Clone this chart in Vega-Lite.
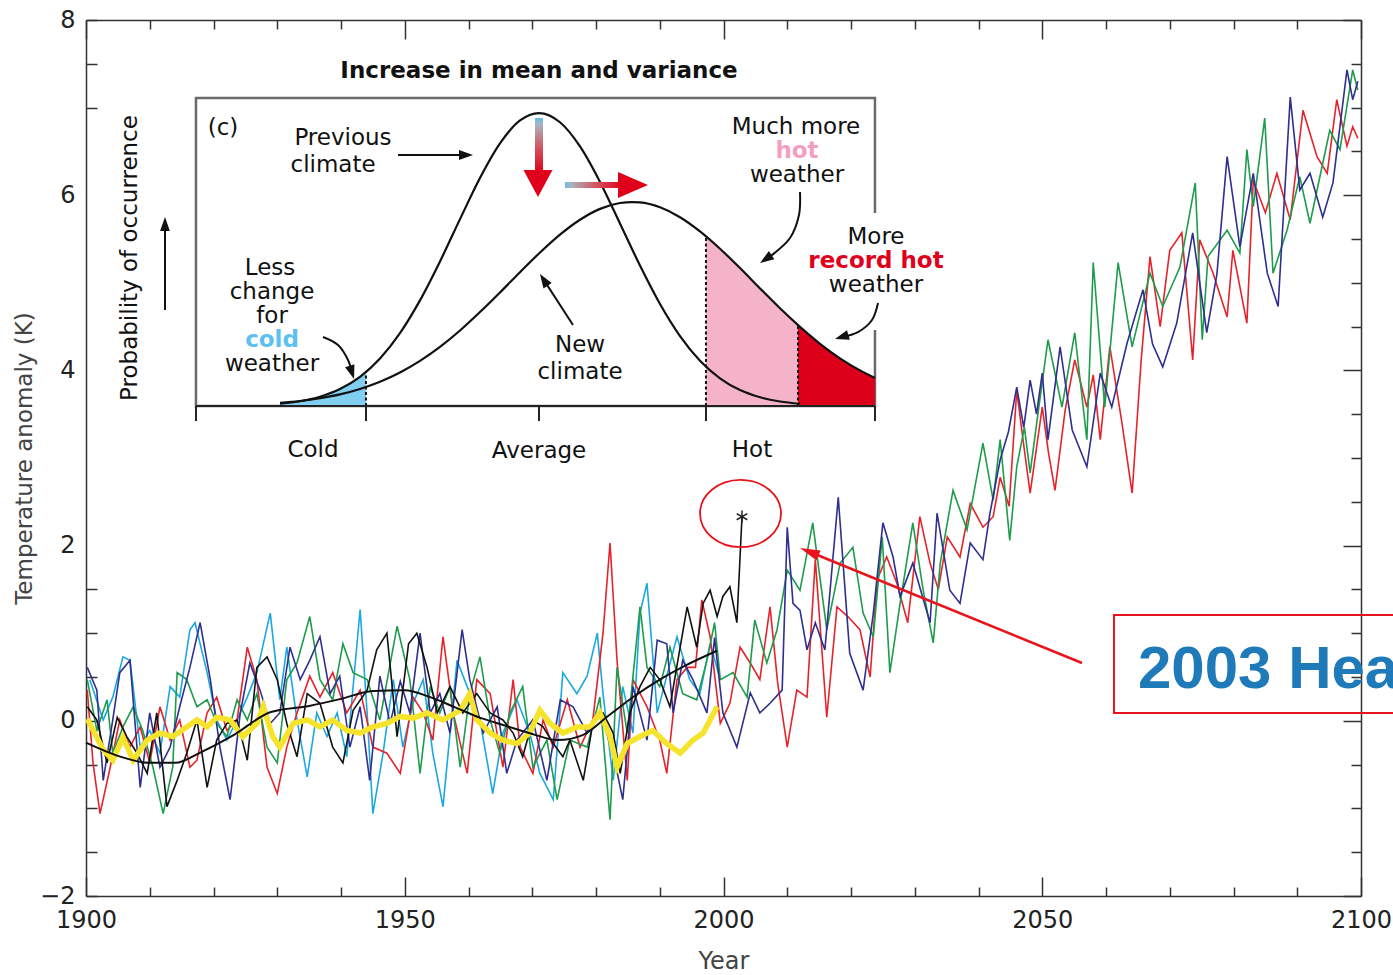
{
"$schema":"https://vega.github.io/schema/vega-lite/v6.json",
"width":1275,"height":876,
"autosize":{"type":"none"},
"padding":{"left":86,"top":20,"right":32,"bottom":79},
"background":"white",
"config":{"view":{"stroke":null},"axis":{"grid":false,"labelFont":"DejaVu Sans","titleFont":"DejaVu Sans","domainColor":"#333","domainWidth":1.5,"tickColor":"#333","tickWidth":1.5,"titleFontWeight":"normal"}},
"datasets":{
"series":[
{"s":"c","x":1900.6,"v":0.47},{"s":"c","x":1902.7,"v":0.01},{"s":"c","x":1904.2,"v":0.27},{"s":"c","x":1905.8,"v":0.73},{"s":"c","x":1906.9,"v":0.69},{"s":"c","x":1908.5,"v":-0.30},{"s":"c","x":1910.0,"v":-0.11},{"s":"c","x":1911.6,"v":-0.37},{"s":"c","x":1913.2,"v":0.39},{"s":"c","x":1914.7,"v":0.27},{"s":"c","x":1916.3,"v":1.04},{"s":"c","x":1917.1,"v":1.12},{"s":"c","x":1919.0,"v":0.55},{"s":"c","x":1920.5,"v":0.01},{"s":"c","x":1922.1,"v":-0.22},{"s":"c","x":1923.7,"v":0.01},{"s":"c","x":1925.3,"v":0.27},{"s":"c","x":1926.8,"v":0.55},{"s":"c","x":1928.9,"v":1.23},{"s":"c","x":1930.4,"v":0.24},{"s":"c","x":1931.5,"v":0.84},{"s":"c","x":1933.1,"v":0.01},{"s":"c","x":1934.7,"v":-0.64},{"s":"c","x":1936.2,"v":0.09},{"s":"c","x":1937.8,"v":-0.18},{"s":"c","x":1939.4,"v":0.09},{"s":"c","x":1940.9,"v":-0.41},{"s":"c","x":1943.0,"v":1.27},{"s":"c","x":1944.1,"v":0.09},{"s":"c","x":1945.0,"v":-1.06},{"s":"c","x":1946.6,"v":-0.37},{"s":"c","x":1948.2,"v":0.47},{"s":"c","x":1949.7,"v":-0.30},{"s":"c","x":1951.3,"v":0.20},{"s":"c","x":1952.9,"v":0.47},{"s":"c","x":1954.4,"v":-0.37},{"s":"c","x":1956.0,"v":-0.98},{"s":"c","x":1958.2,"v":0.69},{"s":"c","x":1959.8,"v":0.39},{"s":"c","x":1961.8,"v":0.01},{"s":"c","x":1963.8,"v":-0.83},{"s":"c","x":1965.4,"v":-0.14},{"s":"c","x":1967.6,"v":0.24},{"s":"c","x":1969.6,"v":-0.14},{"s":"c","x":1971.2,"v":-0.60},{"s":"c","x":1973.3,"v":-0.90},{"s":"c","x":1974.8,"v":0.55},{"s":"c","x":1977.0,"v":0.31},{"s":"c","x":1978.6,"v":0.51},{"s":"c","x":1980.2,"v":1.00},{"s":"c","x":1981.1,"v":0.31},{"s":"c","x":1982.7,"v":-0.68},{"s":"c","x":1984.2,"v":0.39},{"s":"c","x":1985.8,"v":-0.14},{"s":"c","x":1986.9,"v":1.23},{"s":"c","x":1988.0,"v":1.57},{"s":"c","x":1989.6,"v":0.09},{"s":"c","x":1991.1,"v":0.51},{"s":"c","x":1992.7,"v":0.96},{"s":"c","x":1994.7,"v":0.47},{"s":"c","x":1996.3,"v":0.31},{"s":"c","x":1997.9,"v":0.88},{"s":"c","x":1999.5,"v":0.47},
{"s":"r","x":1900.2,"v":0.35},{"s":"r","x":1901.1,"v":-0.48},{"s":"r","x":1902.2,"v":-1.06},{"s":"r","x":1903.8,"v":-0.53},{"s":"r","x":1905.3,"v":0.01},{"s":"r","x":1906.9,"v":-0.30},{"s":"r","x":1908.5,"v":-0.07},{"s":"r","x":1910.0,"v":-0.48},{"s":"r","x":1911.6,"v":0.16},{"s":"r","x":1913.2,"v":-0.22},{"s":"r","x":1914.7,"v":0.01},{"s":"r","x":1916.3,"v":-0.53},{"s":"r","x":1917.4,"v":-0.45},{"s":"r","x":1919.0,"v":0.09},{"s":"r","x":1920.5,"v":0.27},{"s":"r","x":1922.1,"v":-0.11},{"s":"r","x":1923.7,"v":0.01},{"s":"r","x":1925.3,"v":0.84},{"s":"r","x":1926.8,"v":0.47},{"s":"r","x":1928.4,"v":-0.53},{"s":"r","x":1930.0,"v":-0.83},{"s":"r","x":1931.5,"v":-0.30},{"s":"r","x":1933.1,"v":0.09},{"s":"r","x":1935.1,"v":0.51},{"s":"r","x":1936.7,"v":0.27},{"s":"r","x":1938.7,"v":0.55},{"s":"r","x":1940.9,"v":0.09},{"s":"r","x":1943.0,"v":0.35},{"s":"r","x":1945.0,"v":-0.30},{"s":"r","x":1947.2,"v":-0.37},{"s":"r","x":1949.3,"v":-0.60},{"s":"r","x":1951.3,"v":0.27},{"s":"r","x":1952.9,"v":0.09},{"s":"r","x":1954.4,"v":-0.22},{"s":"r","x":1956.0,"v":0.96},{"s":"r","x":1957.6,"v":0.09},{"s":"r","x":1959.8,"v":-0.60},{"s":"r","x":1961.3,"v":0.47},{"s":"r","x":1963.4,"v":0.31},{"s":"r","x":1965.4,"v":-0.53},{"s":"r","x":1967.0,"v":0.47},{"s":"r","x":1968.1,"v":-0.30},{"s":"r","x":1970.1,"v":-0.60},{"s":"r","x":1971.7,"v":0.01},{"s":"r","x":1973.3,"v":-0.30},{"s":"r","x":1975.5,"v":0.24},{"s":"r","x":1977.5,"v":-0.30},{"s":"r","x":1979.5,"v":0.01},{"s":"r","x":1981.1,"v":1.00},{"s":"r","x":1982.2,"v":2.03},{"s":"r","x":1983.3,"v":0.69},{"s":"r","x":1984.9,"v":-0.68},{"s":"r","x":1985.8,"v":0.47},{"s":"r","x":1988.0,"v":0.16},{"s":"r","x":1990.0,"v":-0.22},{"s":"r","x":1991.1,"v":-0.60},{"s":"r","x":1992.7,"v":0.47},{"s":"r","x":1994.3,"v":0.61},{"s":"r","x":1995.6,"v":0.61},{"s":"r","x":1996.6,"v":1.38},{"s":"r","x":1997.9,"v":0.96},{"s":"r","x":1999.5,"v":-0.03},{"s":"r","x":2001.0,"v":0.20},{"s":"r","x":2002.6,"v":0.84},{"s":"r","x":2004.2,"v":0.66},{"s":"r","x":2005.7,"v":0.47},{"s":"r","x":2007.3,"v":1.30},{"s":"r","x":2008.5,"v":0.43},{"s":"r","x":2010.0,"v":-0.30},{"s":"r","x":2011.5,"v":0.35},{"s":"r","x":2013.1,"v":0.27},{"s":"r","x":2014.4,"v":1.84},{"s":"r","x":2016.2,"v":0.04},{"s":"r","x":2017.8,"v":1.30},{"s":"r","x":2019.5,"v":1.19},{"s":"r","x":2021.4,"v":1.04},{"s":"r","x":2023.0,"v":0.50},{"s":"r","x":2024.1,"v":1.61},{"s":"r","x":2025.6,"v":1.87},{"s":"r","x":2027.2,"v":1.57},{"s":"r","x":2028.9,"v":1.12},{"s":"r","x":2030.8,"v":2.33},{"s":"r","x":2032.4,"v":1.80},{"s":"r","x":2033.7,"v":1.50},{"s":"r","x":2035.1,"v":2.10},{"s":"r","x":2037.1,"v":1.87},{"s":"r","x":2038.7,"v":2.48},{"s":"r","x":2040.7,"v":2.21},{"s":"r","x":2042.3,"v":2.33},{"s":"r","x":2043.4,"v":2.78},{"s":"r","x":2044.8,"v":2.45},{"s":"r","x":2046.0,"v":3.77},{"s":"r","x":2047.0,"v":3.20},{"s":"r","x":2048.1,"v":2.60},{"s":"r","x":2050.0,"v":3.58},{"s":"r","x":2051.0,"v":3.05},{"s":"r","x":2052.0,"v":2.63},{"s":"r","x":2053.6,"v":3.55},{"s":"r","x":2055.1,"v":4.12},{"s":"r","x":2057.0,"v":3.58},{"s":"r","x":2058.0,"v":3.95},{"s":"r","x":2059.1,"v":3.21},{"s":"r","x":2060.6,"v":4.27},{"s":"r","x":2062.5,"v":3.40},{"s":"r","x":2064.1,"v":2.60},{"s":"r","x":2065.5,"v":4.10},{"s":"r","x":2066.9,"v":5.30},{"s":"r","x":2068.5,"v":4.50},{"s":"r","x":2070.0,"v":5.37},{"s":"r","x":2071.9,"v":5.57},{"s":"r","x":2073.6,"v":4.12},{"s":"r","x":2074.7,"v":5.49},{"s":"r","x":2076.8,"v":5.11},{"s":"r","x":2079.0,"v":4.61},{"s":"r","x":2079.9,"v":5.37},{"s":"r","x":2082.1,"v":4.54},{"s":"r","x":2083.1,"v":6.17},{"s":"r","x":2085.0,"v":5.80},{"s":"r","x":2086.8,"v":6.25},{"s":"r","x":2088.9,"v":5.72},{"s":"r","x":2090.9,"v":6.97},{"s":"r","x":2093.1,"v":6.44},{"s":"r","x":2094.7,"v":6.25},{"s":"r","x":2096.2,"v":7.09},{"s":"r","x":2097.8,"v":6.56},{"s":"r","x":2098.7,"v":6.78},{"s":"r","x":2099.5,"v":6.65},
{"s":"g","x":1900.2,"v":0.47},{"s":"g","x":1901.7,"v":-0.11},{"s":"g","x":1903.3,"v":0.24},{"s":"g","x":1904.2,"v":-0.37},{"s":"g","x":1905.8,"v":-0.07},{"s":"g","x":1907.4,"v":0.16},{"s":"g","x":1908.9,"v":-0.11},{"s":"g","x":1910.5,"v":-0.53},{"s":"g","x":1912.1,"v":-1.06},{"s":"g","x":1913.6,"v":-0.53},{"s":"g","x":1914.3,"v":0.55},{"s":"g","x":1915.8,"v":0.47},{"s":"g","x":1917.4,"v":0.16},{"s":"g","x":1919.0,"v":0.24},{"s":"g","x":1920.5,"v":-0.03},{"s":"g","x":1922.1,"v":-0.18},{"s":"g","x":1923.7,"v":0.24},{"s":"g","x":1925.3,"v":0.01},{"s":"g","x":1926.8,"v":0.31},{"s":"g","x":1928.4,"v":-0.30},{"s":"g","x":1930.0,"v":-0.48},{"s":"g","x":1931.5,"v":0.47},{"s":"g","x":1933.1,"v":0.66},{"s":"g","x":1935.1,"v":1.19},{"s":"g","x":1936.7,"v":0.47},{"s":"g","x":1938.7,"v":0.24},{"s":"g","x":1940.3,"v":0.88},{"s":"g","x":1941.9,"v":0.55},{"s":"g","x":1944.1,"v":0.47},{"s":"g","x":1946.1,"v":0.01},{"s":"g","x":1948.8,"v":1.08},{"s":"g","x":1950.8,"v":0.47},{"s":"g","x":1952.4,"v":-0.60},{"s":"g","x":1954.0,"v":0.39},{"s":"g","x":1955.5,"v":0.09},{"s":"g","x":1957.1,"v":0.39},{"s":"g","x":1958.7,"v":-0.53},{"s":"g","x":1960.2,"v":0.31},{"s":"g","x":1961.8,"v":0.73},{"s":"g","x":1963.4,"v":0.01},{"s":"g","x":1964.9,"v":-0.37},{"s":"g","x":1966.5,"v":0.09},{"s":"g","x":1968.5,"v":0.39},{"s":"g","x":1970.1,"v":-0.53},{"s":"g","x":1972.3,"v":-0.22},{"s":"g","x":1973.9,"v":-0.90},{"s":"g","x":1975.9,"v":-0.22},{"s":"g","x":1978.6,"v":-0.30},{"s":"g","x":1980.6,"v":0.27},{"s":"g","x":1982.2,"v":-1.13},{"s":"g","x":1983.3,"v":0.61},{"s":"g","x":1984.9,"v":-0.14},{"s":"g","x":1986.9,"v":1.30},{"s":"g","x":1988.0,"v":0.61},{"s":"g","x":1990.0,"v":0.39},{"s":"g","x":1991.6,"v":0.84},{"s":"g","x":1993.6,"v":0.31},{"s":"g","x":1995.8,"v":0.24},{"s":"g","x":1997.4,"v":0.69},{"s":"g","x":1998.6,"v":1.12},{"s":"g","x":1999.5,"v":0.47},{"s":"g","x":2001.5,"v":0.55},{"s":"g","x":2003.7,"v":0.27},{"s":"g","x":2004.9,"v":1.15},{"s":"g","x":2006.8,"v":0.66},{"s":"g","x":2008.4,"v":1.04},{"s":"g","x":2010.0,"v":1.72},{"s":"g","x":2012.0,"v":1.49},{"s":"g","x":2014.0,"v":2.26},{"s":"g","x":2016.2,"v":1.04},{"s":"g","x":2018.3,"v":1.80},{"s":"g","x":2020.3,"v":1.98},{"s":"g","x":2021.9,"v":1.23},{"s":"g","x":2023.5,"v":0.96},{"s":"g","x":2024.9,"v":2.10},{"s":"g","x":2026.1,"v":0.55},{"s":"g","x":2027.7,"v":1.34},{"s":"g","x":2029.7,"v":2.26},{"s":"g","x":2031.3,"v":1.50},{"s":"g","x":2032.9,"v":0.89},{"s":"g","x":2034.0,"v":1.80},{"s":"g","x":2036.0,"v":2.63},{"s":"g","x":2038.2,"v":2.18},{"s":"g","x":2040.7,"v":3.17},{"s":"g","x":2042.3,"v":2.52},{"s":"g","x":2043.4,"v":3.21},{"s":"g","x":2044.9,"v":2.06},{"s":"g","x":2046.0,"v":2.90},{"s":"g","x":2047.2,"v":3.35},{"s":"g","x":2048.1,"v":2.83},{"s":"g","x":2049.5,"v":3.60},{"s":"g","x":2050.9,"v":4.35},{"s":"g","x":2053.1,"v":3.58},{"s":"g","x":2055.1,"v":4.43},{"s":"g","x":2057.0,"v":3.21},{"s":"g","x":2058.0,"v":5.23},{"s":"g","x":2059.8,"v":3.58},{"s":"g","x":2061.9,"v":5.23},{"s":"g","x":2064.1,"v":4.27},{"s":"g","x":2066.9,"v":5.11},{"s":"g","x":2068.9,"v":4.73},{"s":"g","x":2071.6,"v":5.18},{"s":"g","x":2074.0,"v":6.14},{"s":"g","x":2075.1,"v":4.35},{"s":"g","x":2076.0,"v":5.30},{"s":"g","x":2079.0,"v":5.60},{"s":"g","x":2081.0,"v":5.34},{"s":"g","x":2082.1,"v":6.52},{"s":"g","x":2083.1,"v":5.87},{"s":"g","x":2084.9,"v":6.88},{"s":"g","x":2086.2,"v":5.11},{"s":"g","x":2088.4,"v":5.60},{"s":"g","x":2090.4,"v":6.21},{"s":"g","x":2092.0,"v":5.68},{"s":"g","x":2095.1,"v":6.74},{"s":"g","x":2096.7,"v":6.52},{"s":"g","x":2098.7,"v":7.43},{"s":"g","x":2099.5,"v":7.20},
{"s":"b","x":1900.2,"v":0.61},{"s":"b","x":1901.7,"v":0.35},{"s":"b","x":1902.7,"v":-0.68},{"s":"b","x":1904.2,"v":0.01},{"s":"b","x":1905.3,"v":0.55},{"s":"b","x":1906.9,"v":0.69},{"s":"b","x":1908.5,"v":-0.76},{"s":"b","x":1910.0,"v":0.09},{"s":"b","x":1911.6,"v":-0.53},{"s":"b","x":1913.2,"v":-0.30},{"s":"b","x":1914.7,"v":0.16},{"s":"b","x":1916.3,"v":0.61},{"s":"b","x":1917.9,"v":1.12},{"s":"b","x":1919.5,"v":0.47},{"s":"b","x":1921.0,"v":-0.30},{"s":"b","x":1922.6,"v":-0.90},{"s":"b","x":1924.2,"v":0.09},{"s":"b","x":1925.7,"v":0.66},{"s":"b","x":1927.3,"v":0.35},{"s":"b","x":1928.9,"v":-0.03},{"s":"b","x":1930.4,"v":0.09},{"s":"b","x":1932.0,"v":0.84},{"s":"b","x":1933.6,"v":0.47},{"s":"b","x":1935.1,"v":0.69},{"s":"b","x":1936.7,"v":0.96},{"s":"b","x":1938.3,"v":0.31},{"s":"b","x":1939.8,"v":0.51},{"s":"b","x":1941.4,"v":-0.30},{"s":"b","x":1943.0,"v":0.16},{"s":"b","x":1944.5,"v":-0.68},{"s":"b","x":1946.1,"v":0.51},{"s":"b","x":1947.7,"v":-0.03},{"s":"b","x":1949.3,"v":0.45},{"s":"b","x":1950.8,"v":0.09},{"s":"b","x":1952.4,"v":1.00},{"s":"b","x":1954.0,"v":0.09},{"s":"b","x":1955.5,"v":0.31},{"s":"b","x":1957.1,"v":-0.14},{"s":"b","x":1959.0,"v":1.04},{"s":"b","x":1960.2,"v":0.47},{"s":"b","x":1962.3,"v":-0.14},{"s":"b","x":1964.5,"v":0.16},{"s":"b","x":1966.0,"v":-0.60},{"s":"b","x":1967.6,"v":-0.22},{"s":"b","x":1970.1,"v":0.01},{"s":"b","x":1972.3,"v":-0.68},{"s":"b","x":1974.4,"v":0.24},{"s":"b","x":1976.4,"v":0.16},{"s":"b","x":1978.6,"v":-0.14},{"s":"b","x":1980.6,"v":0.09},{"s":"b","x":1982.7,"v":-0.37},{"s":"b","x":1984.2,"v":-0.90},{"s":"b","x":1985.8,"v":0.39},{"s":"b","x":1988.0,"v":-0.22},{"s":"b","x":1989.6,"v":0.92},{"s":"b","x":1991.1,"v":0.88},{"s":"b","x":1992.1,"v":0.09},{"s":"b","x":1993.6,"v":0.69},{"s":"b","x":1995.2,"v":0.47},{"s":"b","x":1997.4,"v":0.09},{"s":"b","x":1998.6,"v":0.95},{"s":"b","x":1999.9,"v":0.09},{"s":"b","x":2002.1,"v":-0.30},{"s":"b","x":2004.2,"v":0.32},{"s":"b","x":2005.7,"v":0.09},{"s":"b","x":2007.3,"v":0.20},{"s":"b","x":2009.2,"v":0.35},{"s":"b","x":2010.0,"v":2.21},{"s":"b","x":2010.9,"v":1.34},{"s":"b","x":2012.0,"v":1.26},{"s":"b","x":2013.1,"v":0.81},{"s":"b","x":2014.4,"v":1.12},{"s":"b","x":2015.9,"v":0.81},{"s":"b","x":2018.0,"v":2.55},{"s":"b","x":2019.8,"v":0.77},{"s":"b","x":2021.9,"v":0.35},{"s":"b","x":2023.5,"v":1.23},{"s":"b","x":2025.0,"v":2.26},{"s":"b","x":2026.6,"v":1.87},{"s":"b","x":2027.7,"v":1.42},{"s":"b","x":2029.7,"v":1.80},{"s":"b","x":2032.4,"v":1.12},{"s":"b","x":2033.5,"v":2.37},{"s":"b","x":2035.5,"v":1.49},{"s":"b","x":2037.1,"v":1.34},{"s":"b","x":2038.7,"v":2.03},{"s":"b","x":2040.7,"v":1.84},{"s":"b","x":2041.8,"v":2.37},{"s":"b","x":2043.4,"v":2.98},{"s":"b","x":2044.7,"v":3.30},{"s":"b","x":2046.0,"v":3.81},{"s":"b","x":2047.1,"v":3.35},{"s":"b","x":2048.1,"v":3.89},{"s":"b","x":2049.1,"v":3.50},{"s":"b","x":2050.0,"v":3.97},{"s":"b","x":2050.9,"v":3.21},{"s":"b","x":2052.8,"v":4.27},{"s":"b","x":2054.7,"v":3.32},{"s":"b","x":2057.0,"v":2.90},{"s":"b","x":2059.1,"v":3.97},{"s":"b","x":2060.9,"v":3.58},{"s":"b","x":2063.3,"v":4.31},{"s":"b","x":2065.8,"v":4.92},{"s":"b","x":2067.3,"v":4.30},{"s":"b","x":2068.9,"v":4.04},{"s":"b","x":2071.1,"v":4.54},{"s":"b","x":2073.6,"v":5.57},{"s":"b","x":2075.8,"v":4.43},{"s":"b","x":2077.4,"v":5.10},{"s":"b","x":2079.0,"v":6.44},{"s":"b","x":2081.0,"v":5.41},{"s":"b","x":2083.1,"v":6.25},{"s":"b","x":2085.3,"v":5.11},{"s":"b","x":2087.0,"v":4.73},{"s":"b","x":2088.9,"v":7.12},{"s":"b","x":2090.4,"v":6.06},{"s":"b","x":2092.0,"v":6.25},{"s":"b","x":2094.0,"v":5.75},{"s":"b","x":2095.6,"v":6.14},{"s":"b","x":2097.8,"v":7.43},{"s":"b","x":2098.7,"v":7.09},{"s":"b","x":2099.5,"v":7.30},
{"s":"k","x":1900.2,"v":0.16},{"s":"k","x":1901.7,"v":0.01},{"s":"k","x":1903.3,"v":-0.48},{"s":"k","x":1904.9,"v":0.04},{"s":"k","x":1906.4,"v":-0.18},{"s":"k","x":1908.0,"v":-0.37},{"s":"k","x":1909.6,"v":-0.60},{"s":"k","x":1911.1,"v":0.09},{"s":"k","x":1912.7,"v":-0.98},{"s":"k","x":1914.3,"v":-0.68},{"s":"k","x":1915.8,"v":-0.37},{"s":"k","x":1917.4,"v":0.01},{"s":"k","x":1919.0,"v":-0.76},{"s":"k","x":1920.5,"v":-0.22},{"s":"k","x":1922.1,"v":-0.03},{"s":"k","x":1923.7,"v":0.01},{"s":"k","x":1925.3,"v":-0.45},{"s":"k","x":1926.8,"v":0.61},{"s":"k","x":1928.4,"v":0.73},{"s":"k","x":1930.0,"v":0.47},{"s":"k","x":1931.5,"v":-0.03},{"s":"k","x":1933.1,"v":-0.41},{"s":"k","x":1934.7,"v":0.31},{"s":"k","x":1936.7,"v":0.20},{"s":"k","x":1938.7,"v":-0.30},{"s":"k","x":1940.3,"v":-0.48},{"s":"k","x":1941.9,"v":0.12},{"s":"k","x":1944.1,"v":0.35},{"s":"k","x":1945.6,"v":0.81},{"s":"k","x":1947.2,"v":1.00},{"s":"k","x":1948.8,"v":-0.18},{"s":"k","x":1950.6,"v":0.88},{"s":"k","x":1951.9,"v":1.00},{"s":"k","x":1953.5,"v":0.61},{"s":"k","x":1955.1,"v":0.09},{"s":"k","x":1957.1,"v":0.39},{"s":"k","x":1959.1,"v":0.09},{"s":"k","x":1961.3,"v":0.31},{"s":"k","x":1963.4,"v":0.09},{"s":"k","x":1965.4,"v":0.01},{"s":"k","x":1967.0,"v":-0.14},{"s":"k","x":1968.5,"v":-0.41},{"s":"k","x":1970.1,"v":0.01},{"s":"k","x":1971.7,"v":-0.07},{"s":"k","x":1973.3,"v":-0.26},{"s":"k","x":1974.8,"v":-0.41},{"s":"k","x":1975.9,"v":-0.22},{"s":"k","x":1978.0,"v":-0.68},{"s":"k","x":1979.5,"v":-0.03},{"s":"k","x":1981.1,"v":0.09},{"s":"k","x":1982.7,"v":-0.14},{"s":"k","x":1983.8,"v":-0.60},{"s":"k","x":1985.3,"v":0.09},{"s":"k","x":1986.9,"v":0.39},{"s":"k","x":1988.5,"v":0.61},{"s":"k","x":1990.0,"v":0.47},{"s":"k","x":1991.6,"v":0.16},{"s":"k","x":1993.2,"v":0.84},{"s":"k","x":1994.3,"v":1.30},{"s":"k","x":1995.8,"v":0.84},{"s":"k","x":1996.8,"v":1.34},{"s":"k","x":1997.9,"v":1.49},{"s":"k","x":1999.0,"v":1.19},{"s":"k","x":1999.9,"v":1.42},{"s":"k","x":2001.0,"v":1.53},{"s":"k","x":2002.1,"v":1.12},{"s":"k","x":2002.9,"v":2.33}
],
"yellow":[
{"x":1900.2,"v":0.02},{"x":1902.7,"v":-0.33},{"x":1904.2,"v":-0.45},{"x":1905.8,"v":-0.19},{"x":1907.4,"v":-0.45},{"x":1909.6,"v":-0.22},{"x":1911.6,"v":-0.14},{"x":1913.6,"v":-0.18},{"x":1915.8,"v":-0.07},{"x":1917.4,"v":0.01},{"x":1919.0,"v":-0.07},{"x":1920.5,"v":0.04},{"x":1922.6,"v":0.01},{"x":1924.6,"v":-0.18},{"x":1926.8,"v":-0.03},{"x":1927.8,"v":0.16},{"x":1929.3,"v":-0.18},{"x":1930.4,"v":-0.30},{"x":1932.5,"v":-0.03},{"x":1934.7,"v":0.01},{"x":1936.7,"v":-0.07},{"x":1938.7,"v":0.01},{"x":1940.9,"v":-0.11},{"x":1943.0,"v":-0.14},{"x":1945.0,"v":-0.07},{"x":1947.2,"v":-0.03},{"x":1949.3,"v":0.05},{"x":1951.3,"v":0.03},{"x":1953.5,"v":0.09},{"x":1956.0,"v":0.01},{"x":1958.7,"v":0.12},{"x":1960.2,"v":0.31},{"x":1961.3,"v":0.01},{"x":1963.4,"v":-0.14},{"x":1965.4,"v":-0.22},{"x":1967.6,"v":-0.26},{"x":1969.6,"v":-0.14},{"x":1971.2,"v":0.12},{"x":1972.8,"v":-0.03},{"x":1974.8,"v":-0.14},{"x":1977.0,"v":-0.07},{"x":1979.1,"v":-0.07},{"x":1980.6,"v":0.09},{"x":1982.2,"v":-0.18},{"x":1983.3,"v":-0.53},{"x":1984.9,"v":-0.26},{"x":1986.9,"v":-0.18},{"x":1988.9,"v":-0.11},{"x":1991.1,"v":-0.26},{"x":1993.2,"v":-0.37},{"x":1995.2,"v":-0.22},{"x":1996.8,"v":-0.14},{"x":1999.0,"v":0.16}
],
"smooth":[
{"x":1900,"v":-0.25},{"x":1905,"v":-0.40},{"x":1910,"v":-0.48},{"x":1914,"v":-0.48},{"x":1918,"v":-0.36},{"x":1923,"v":-0.17},{"x":1929,"v":0.10},{"x":1935,"v":0.17},{"x":1940,"v":0.25},{"x":1945,"v":0.34},{"x":1950,"v":0.35},{"x":1954,"v":0.27},{"x":1958,"v":0.15},{"x":1962,"v":0.03},{"x":1966,"v":-0.06},{"x":1970,"v":-0.15},{"x":1974,"v":-0.22},{"x":1978,"v":-0.16},{"x":1982,"v":0.06},{"x":1986,"v":0.28},{"x":1990,"v":0.47},{"x":1994,"v":0.63},{"x":1999,"v":0.80}
],
"curves":[
{"c":"prev","x":1930.43,"y":3.620},{"c":"prev","x":1933.57,"y":3.648},{"c":"prev","x":1936.71,"y":3.700},{"c":"prev","x":1939.84,"y":3.787},{"c":"prev","x":1942.98,"y":3.926},{"c":"prev","x":1946.12,"y":4.135},{"c":"prev","x":1949.25,"y":4.425},{"c":"prev","x":1952.39,"y":4.799},{"c":"prev","x":1955.53,"y":5.244},{"c":"prev","x":1958.67,"y":5.727},{"c":"prev","x":1961.80,"y":6.196},{"c":"prev","x":1964.94,"y":6.591},{"c":"prev","x":1968.08,"y":6.853},{"c":"prev","x":1971.06,"y":6.938},{"c":"prev","x":1974.35,"y":6.833},{"c":"prev","x":1977.49,"y":6.557},{"c":"prev","x":1980.63,"y":6.152},{"c":"prev","x":1983.76,"y":5.678},{"c":"prev","x":1986.90,"y":5.197},{"c":"prev","x":1990.04,"y":4.758},{"c":"prev","x":1993.18,"y":4.392},{"c":"prev","x":1996.31,"y":4.111},{"c":"prev","x":1999.45,"y":3.910},{"c":"prev","x":2002.59,"y":3.775},{"c":"prev","x":2005.73,"y":3.693},{"c":"prev","x":2008.86,"y":3.645},{"c":"prev","x":2012.00,"y":3.619},
{"c":"new","x":1930.43,"y":3.630},{"c":"new","x":1933.57,"y":3.651},{"c":"new","x":1936.71,"y":3.683},{"c":"new","x":1939.84,"y":3.726},{"c":"new","x":1942.98,"y":3.788},{"c":"new","x":1946.12,"y":3.870},{"c":"new","x":1949.25,"y":3.976},{"c":"new","x":1952.39,"y":4.108},{"c":"new","x":1955.53,"y":4.268},{"c":"new","x":1958.67,"y":4.455},{"c":"new","x":1961.80,"y":4.666},{"c":"new","x":1964.94,"y":4.890},{"c":"new","x":1968.08,"y":5.121},{"c":"new","x":1971.22,"y":5.346},{"c":"new","x":1974.35,"y":5.550},{"c":"new","x":1977.49,"y":5.720},{"c":"new","x":1980.63,"y":5.844},{"c":"new","x":1983.76,"y":5.911},{"c":"new","x":1985.65,"y":5.922},{"c":"new","x":1986.90,"y":5.918},{"c":"new","x":1990.04,"y":5.862},{"c":"new","x":1993.18,"y":5.749},{"c":"new","x":1996.31,"y":5.587},{"c":"new","x":1999.45,"y":5.389},{"c":"new","x":2002.59,"y":5.168},{"c":"new","x":2005.73,"y":4.936},{"c":"new","x":2008.86,"y":4.709},{"c":"new","x":2012.00,"y":4.497},{"c":"new","x":2015.14,"y":4.304},{"c":"new","x":2018.27,"y":4.138},{"c":"new","x":2021.41,"y":4.000},{"c":"new","x":2023.76,"y":3.914}
],
"areas":[
{"a":"cold","x":1930.43,"y":3.620},{"a":"cold","x":1933.57,"y":3.648},{"a":"cold","x":1936.71,"y":3.700},{"a":"cold","x":1939.84,"y":3.787},{"a":"cold","x":1942.98,"y":3.926},{"a":"cold","x":1943.92,"y":3.981},
{"a":"hot","x":1997.25,"y":5.531},{"a":"hot","x":1999.45,"y":5.389},{"a":"hot","x":2002.59,"y":5.168},{"a":"hot","x":2005.73,"y":4.936},{"a":"hot","x":2008.86,"y":4.709},{"a":"hot","x":2011.69,"y":4.516},
{"a":"rec","x":2011.69,"y":4.516},{"a":"rec","x":2012.00,"y":4.497},{"a":"rec","x":2015.14,"y":4.304},{"a":"rec","x":2018.27,"y":4.138},{"a":"rec","x":2021.41,"y":4.000},{"a":"rec","x":2023.76,"y":3.914}
],
"dash":[{"x":1943.92,"y":3.594,"y2":3.981},{"x":1997.25,"y":3.594,"y2":5.531},{"x":2011.69,"y":3.594,"y2":4.516}],
"iticks":[{"x":1917.25,"y":3.594,"y2":3.422},{"x":1943.92,"y":3.594,"y2":3.422},{"x":1971.06,"y":3.594,"y2":3.422},{"x":1997.25,"y":3.594,"y2":3.422},{"x":2023.76,"y":3.594,"y2":3.422}],
"itext":[
{"t":"Previous","x":1940.31,"y":6.653},{"t":"climate","x":1938.75,"y":6.345},
{"t":"Much more","x":2011.37,"y":6.779},{"t":"weather","x":2011.53,"y":6.231},
{"t":"More","x":2023.92,"y":5.523},{"t":"weather","x":2023.92,"y":4.975},
{"t":"Less","x":1928.86,"y":5.169},{"t":"change","x":1929.18,"y":4.895},{"t":"for","x":1929.18,"y":4.621},{"t":"weather","x":1929.18,"y":4.073},
{"t":"New","x":1977.49,"y":4.290},{"t":"climate","x":1977.49,"y":3.982},
{"t":"Cold","x":1935.61,"y":3.091},{"t":"Average","x":1971.06,"y":3.080},{"t":"Hot","x":2004.47,"y":3.091},
{"t":"(c)","x":1921.49,"y":6.767}
],
"ctext":[
{"t":"hot","k":"p","x":2011.53,"y":6.505},{"t":"record hot","k":"r","x":2023.92,"y":5.249},{"t":"cold","k":"b","x":1929.18,"y":4.347}
],
"arrows":[
{"id":"p","i":0,"x":1948.94,"y":6.459},{"id":"p","i":1,"x":1958.98,"y":6.459},
{"id":"u","i":0,"x":1912.39,"y":4.690},{"id":"u","i":1,"x":1912.39,"y":5.626},
{"id":"n","i":0,"x":1976.39,"y":4.518},{"id":"n","i":1,"x":1971.81,"y":5.033},
{"id":"h","i":0,"x":2012.00,"y":6.037},{"id":"h","i":1,"x":2011.84,"y":5.774},{"id":"h","i":2,"x":2010.43,"y":5.511},{"id":"h","i":3,"x":2007.61,"y":5.317},{"id":"h","i":4,"x":2006.64,"y":5.271},
{"id":"r","i":0,"x":2024.24,"y":4.769},{"id":"r","i":1,"x":2023.29,"y":4.575},{"id":"r","i":2,"x":2021.10,"y":4.438},{"id":"r","i":3,"x":2018.54,"y":4.381},
{"id":"c","i":0,"x":1937.18,"y":4.381},{"id":"c","i":1,"x":1939.53,"y":4.290},{"id":"c","i":2,"x":1941.10,"y":4.119},{"id":"c","i":3,"x":1941.71,"y":3.978}
]
},
"resolve":{"axis":{"x":"independent","y":"independent"},"scale":{"color":"independent"}},
"layer":[
{"data":{"name":"series"},"mark":{"type":"line","strokeWidth":1.6},
"encoding":{
"x":{"field":"x","type":"quantitative","scale":{"domain":[1900,2100],"nice":false,"zero":false},
"axis":{"orient":"bottom","values":[1900,1950,2000,2050,2100],"format":"d","ticks":false,"domain":false,"labelFontSize":24,"labelColor":"#222","labelPadding":12,"labelFlush":false,"labelOverlap":false,"title":"Year","titleFontSize":24,"titleColor":"#444","titlePadding":17}},
"y":{"field":"v","type":"quantitative","scale":{"domain":[-2,8],"nice":false,"zero":false},
"axis":{"orient":"left","values":[-2,0,2,4,6,8],"ticks":false,"domain":false,"labelFontSize":24,"labelColor":"#222","labelPadding":11,"labelOverlap":false,"title":"Temperature anomaly (K)","titleFontSize":23,"titleColor":"#444","titlePadding":3}},
"color":{"field":"s","type":"nominal","scale":{"domain":["c","r","g","b","k"],"range":["#1ba8e0","#e6232b","#1e9c4c","#2e2f8f","#111111"]},"legend":null}
}},
{"data":{"name":"yellow"},"mark":{"type":"line","strokeWidth":5.5,"color":"#f6e32b"},
"encoding":{
"x":{"field":"x","type":"quantitative","axis":{"orient":"bottom","values":[1900,1910,1920,1930,1940,1950,1960,1970,1980,1990,2000,2010,2020,2030,2040,2050,2060,2070,2080,2090,2100],"labels":false,"title":null,"tickSize":{"condition":{"test":"datum.value % 50 == 0","value":-19},"value":-9}}},
"y":{"field":"v","type":"quantitative","axis":{"orient":"left","values":[-2,-1.5,-1,-0.5,0,0.5,1,1.5,2,2.5,3,3.5,4,4.5,5,5.5,6,6.5,7,7.5,8],"labels":false,"title":null,"tickSize":-11,"tickOpacity":{"condition":{"test":"datum.value >= 2 && datum.value <= 6.6","value":0},"value":1}}}
}},
{"data":{"name":"smooth"},"mark":{"type":"line","strokeWidth":2,"color":"#111","interpolate":"monotone"},
"encoding":{
"x":{"field":"x","type":"quantitative","axis":{"orient":"top","values":[1900,1910,1920,1930,1940,1950,1960,1970,1980,1990,2000,2010,2020,2030,2040,2050,2060,2070,2080,2090,2100],"labels":false,"title":null,"tickSize":{"condition":{"test":"datum.value % 50 == 0","value":-19},"value":-9}}},
"y":{"field":"v","type":"quantitative","axis":{"orient":"right","values":[-2,-1.5,-1,-0.5,0,0.5,1,1.5,2,2.5,3,3.5,4,4.5,5,5.5,6,6.5,7,7.5,8],"labels":false,"title":null,"tickSize":{"condition":{"test":"datum.value % 2 == 0","value":-18},"value":-10}}}
}},
{"data":{"values":[{"x":2002.67,"y":2.366}]},"mark":{"type":"point","shape":"M-1,0A1,0.83,0,1,0,1,0A1,0.83,0,1,0,-1,0Z","size":6561,"filled":false,"color":"#e8141c","strokeWidth":1.8,"opacity":1},
"encoding":{"x":{"field":"x","type":"quantitative","axis":null},"y":{"field":"y","type":"quantitative","axis":null}}},
{"data":{"values":[{"x":2002.9,"y":2.33}]},"mark":{"type":"point","shape":"M0,-1L0,1M-0.87,-0.5L0.87,0.5M-0.87,0.5L0.87,-0.5","size":150,"filled":false,"color":"#222","strokeWidth":1.5,"opacity":1},
"encoding":{"x":{"field":"x","type":"quantitative","axis":null},"y":{"field":"y","type":"quantitative","axis":null}}},
{"data":{"values":[{"x":1917.25,"x2":2023.76,"y":3.594,"y2":7.110}]},"mark":{"type":"rect","fill":"white","stroke":"#6a6a6a","strokeWidth":2.5},
"encoding":{"x":{"field":"x","type":"quantitative","axis":null},"x2":{"field":"x2"},"y":{"field":"y","type":"quantitative","axis":null},"y2":{"field":"y2"}}},
{"data":{"name":"areas"},"mark":{"type":"area","interpolate":"monotone","opacity":1},
"encoding":{"x":{"field":"x","type":"quantitative","axis":null},"y":{"field":"y","type":"quantitative","axis":null},"y2":{"datum":3.594},
"color":{"field":"a","type":"nominal","scale":{"domain":["cold","hot","rec"],"range":["#80cef0","#f5b3c9","#dc001a"]},"legend":null}}},
{"data":{"name":"curves"},"mark":{"type":"line","interpolate":"monotone","color":"#111","strokeWidth":2.2},
"encoding":{"x":{"field":"x","type":"quantitative","axis":null},"y":{"field":"y","type":"quantitative","axis":null},"detail":{"field":"c","type":"nominal"}}},
{"data":{"name":"dash"},"mark":{"type":"rule","strokeDash":[3,2.5],"strokeWidth":2,"color":"#111"},
"encoding":{"x":{"field":"x","type":"quantitative","axis":null},"y":{"field":"y","type":"quantitative","axis":null},"y2":{"field":"y2"}}},
{"data":{"values":[{"x":1917.25,"x2":2023.76,"y":3.594}]},"mark":{"type":"rule","strokeWidth":2,"color":"#222"},
"encoding":{"x":{"field":"x","type":"quantitative","axis":null},"x2":{"field":"x2"},"y":{"field":"y","type":"quantitative","axis":null}}},
{"data":{"name":"iticks"},"mark":{"type":"rule","strokeWidth":2,"color":"#222"},
"encoding":{"x":{"field":"x","type":"quantitative","axis":null},"y":{"field":"y","type":"quantitative","axis":null},"y2":{"field":"y2"}}},
{"data":{"values":[{"x":2023.3,"x2":2024.25,"y":4.461,"y2":5.797}]},"mark":{"type":"rect","fill":"white","stroke":null},
"encoding":{"x":{"field":"x","type":"quantitative","axis":null},"x2":{"field":"x2"},"y":{"field":"y","type":"quantitative","axis":null},"y2":{"field":"y2"}}},
{"data":{"values":[{"x":1970.43,"x2":1971.69,"y":6.881,"y2":6.265}]},"mark":{"type":"rect","stroke":null,"fill":{"gradient":"linear","x1":0,"y1":0,"x2":0,"y2":1,"stops":[{"offset":0,"color":"#5ec0ee"},{"offset":0.12,"color":"#a9b4c0"},{"offset":0.55,"color":"#d3545f"},{"offset":1,"color":"#e0001b"}]}},
"encoding":{"x":{"field":"x","type":"quantitative","axis":null},"x2":{"field":"x2"},"y":{"field":"y","type":"quantitative","axis":null},"y2":{"field":"y2"}}},
{"data":{"values":[{"x":1970.90,"y":6.134}]},"mark":{"type":"point","shape":"M-1,-0.93L1,-0.93L0,0.93Z","size":841,"filled":true,"color":"#e0001b","opacity":1},
"encoding":{"x":{"field":"x","type":"quantitative","axis":null},"y":{"field":"y","type":"quantitative","axis":null}}},
{"data":{"values":[{"x":1975.14,"x2":1984.08,"y":6.151,"y2":6.082}]},"mark":{"type":"rect","stroke":null,"fill":{"gradient":"linear","x1":0,"y1":0,"x2":1,"y2":0,"stops":[{"offset":0,"color":"#5ec0ee"},{"offset":0.1,"color":"#a9b4c0"},{"offset":0.55,"color":"#d3545f"},{"offset":1,"color":"#e0001b"}]}},
"encoding":{"x":{"field":"x","type":"quantitative","axis":null},"x2":{"field":"x2"},"y":{"field":"y","type":"quantitative","axis":null},"y2":{"field":"y2"}}},
{"data":{"values":[{"x":1985.80,"y":6.116}]},"mark":{"type":"point","shape":"M-1,-0.87L1,0L-1,0.87Z","size":900,"filled":true,"color":"#e0001b","opacity":1},
"encoding":{"x":{"field":"x","type":"quantitative","axis":null},"y":{"field":"y","type":"quantitative","axis":null}}},
{"data":{"name":"arrows"},"mark":{"type":"line","interpolate":"catmull-rom","color":"#111","strokeWidth":2},
"encoding":{"x":{"field":"x","type":"quantitative","axis":null},"y":{"field":"y","type":"quantitative","axis":null},"detail":{"field":"id","type":"nominal"},"order":{"field":"i","type":"quantitative"}}},
{"data":{"values":[{"x":1959.61,"y":6.459}]},"mark":{"type":"point","shape":"M0,-1L0.7,1L-0.7,1Z","size":196,"angle":90,"filled":true,"color":"#111","opacity":1},
"encoding":{"x":{"field":"x","type":"quantitative","axis":null},"y":{"field":"y","type":"quantitative","axis":null}}},
{"data":{"values":[{"x":1912.39,"y":5.671}]},"mark":{"type":"point","shape":"M0,-1L0.7,1L-0.7,1Z","size":196,"angle":0,"filled":true,"color":"#111","opacity":1},
"encoding":{"x":{"field":"x","type":"quantitative","axis":null},"y":{"field":"y","type":"quantitative","axis":null}}},
{"data":{"values":[{"x":1971.81,"y":5.033}]},"mark":{"type":"point","shape":"M0,-1L0.7,1L-0.7,1Z","size":196,"angle":327,"filled":true,"color":"#111","opacity":1},
"encoding":{"x":{"field":"x","type":"quantitative","axis":null},"y":{"field":"y","type":"quantitative","axis":null}}},
{"data":{"values":[{"x":2006.64,"y":5.271}]},"mark":{"type":"point","shape":"M0,-1L0.7,1L-0.7,1Z","size":196,"angle":236,"filled":true,"color":"#111","opacity":1},
"encoding":{"x":{"field":"x","type":"quantitative","axis":null},"y":{"field":"y","type":"quantitative","axis":null}}},
{"data":{"values":[{"x":2018.54,"y":4.381}]},"mark":{"type":"point","shape":"M0,-1L0.7,1L-0.7,1Z","size":196,"angle":253,"filled":true,"color":"#111","opacity":1},
"encoding":{"x":{"field":"x","type":"quantitative","axis":null},"y":{"field":"y","type":"quantitative","axis":null}}},
{"data":{"values":[{"x":1941.71,"y":3.978}]},"mark":{"type":"point","shape":"M0,-1L0.7,1L-0.7,1Z","size":196,"angle":162,"filled":true,"color":"#111","opacity":1},
"encoding":{"x":{"field":"x","type":"quantitative","axis":null},"y":{"field":"y","type":"quantitative","axis":null}}},
{"data":{"name":"itext"},"mark":{"type":"text","font":"DejaVu Sans","fontSize":23,"color":"#111","align":"center","baseline":"middle"},
"encoding":{"x":{"field":"x","type":"quantitative","axis":null},"y":{"field":"y","type":"quantitative","axis":null},"text":{"field":"t"}}},
{"data":{"values":[{"t":"Increase in mean and variance","x":1971.06,"y":7.418}]},"mark":{"type":"text","font":"DejaVu Sans","fontSize":23,"fontWeight":"bold","color":"#111","align":"center","baseline":"middle"},
"encoding":{"x":{"field":"x","type":"quantitative","axis":null},"y":{"field":"y","type":"quantitative","axis":null},"text":{"field":"t"}}},
{"data":{"name":"ctext"},"mark":{"type":"text","font":"DejaVu Sans","fontSize":23,"fontWeight":"bold","align":"center","baseline":"middle"},
"encoding":{"x":{"field":"x","type":"quantitative","axis":null},"y":{"field":"y","type":"quantitative","axis":null},"text":{"field":"t"},
"color":{"field":"k","type":"nominal","scale":{"domain":["p","r","b"],"range":["#f29fc0","#e1001c","#5cc1ee"]},"legend":null}}},
{"data":{"values":[{"t":"Probability of occurrence","x":1906.90,"y":5.283}]},"mark":{"type":"text","font":"DejaVu Sans","fontSize":23,"color":"#111","align":"center","baseline":"middle","angle":270},
"encoding":{"x":{"field":"x","type":"quantitative","axis":null},"y":{"field":"y","type":"quantitative","axis":null},"text":{"field":"t"}}},
{"data":{"values":[{"x":2056.24,"y":0.660,"x2":2013.46,"y2":1.930}]},"mark":{"type":"rule","color":"#e8141c","strokeWidth":2.5},
"encoding":{"x":{"field":"x","type":"quantitative","axis":null},"y":{"field":"y","type":"quantitative","axis":null},"x2":{"field":"x2"},"y2":{"field":"y2"}}},
{"data":{"values":[{"x":2013.46,"y":1.930}]},"mark":{"type":"point","shape":"M0,-1L0.55,1L-0.55,1Z","size":400,"angle":292,"filled":true,"color":"#e8141c","opacity":1},
"encoding":{"x":{"field":"x","type":"quantitative","axis":null},"y":{"field":"y","type":"quantitative","axis":null}}},
{"data":{"values":[{"x":2061.25,"x2":2110,"y":1.208,"y2":0.089}]},"mark":{"type":"rect","fill":"white","fillOpacity":0,"stroke":"#e8141c","strokeWidth":2},
"encoding":{"x":{"field":"x","type":"quantitative","axis":null},"x2":{"field":"x2"},"y":{"field":"y","type":"quantitative","axis":null},"y2":{"field":"y2"}}},
{"data":{"values":[{"t":"2003 Heatwave","x":2065.02,"y":0.374}]},"mark":{"type":"text","font":"Liberation Sans","fontSize":60,"fontWeight":"bold","color":"#1f7ab9","align":"left","baseline":"alphabetic"},
"encoding":{"x":{"field":"x","type":"quantitative","axis":null},"y":{"field":"y","type":"quantitative","axis":null},"text":{"field":"t"}}}
]
}
